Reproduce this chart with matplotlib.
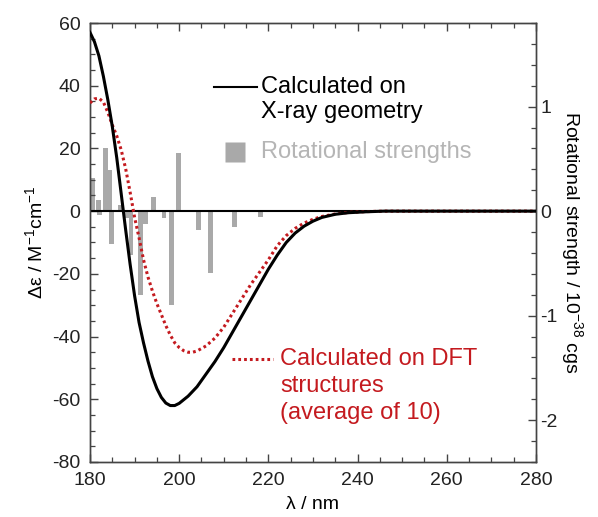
import matplotlib
matplotlib.use("Agg")
import matplotlib.pyplot as plt
from matplotlib.ticker import MultipleLocator

plt.rcParams["font.family"] = ["Liberation Sans", "DejaVu Sans"]
plt.rcParams["mathtext.fontset"] = "custom"
plt.rcParams["mathtext.rm"] = "Liberation Sans"
plt.rcParams["mathtext.it"] = "Liberation Sans:italic"
plt.rcParams["axes.unicode_minus"] = False

# -----------------------------------------------------------------------------
# Data
# -----------------------------------------------------------------------------

# Calculated on X-ray geometry (delta-epsilon, M^-1 cm^-1)
xray_nm = [180, 181, 182, 183, 184, 185, 186, 187, 188, 189, 190, 191, 192,
           193, 194, 195, 196, 197, 198, 199, 200, 202, 204, 206, 208, 210,
           212, 214, 216, 218, 220, 222, 224, 226, 228, 230, 232, 235, 238,
           242, 246, 280]
xray_de = [57, 54, 49.5, 43, 35.5, 27, 17, 5.5, -6, -17, -27, -35.5, -42,
           -47.8, -52.8, -56.6, -59.4, -61.2, -62, -62, -61.3, -59, -56, -52,
           -48, -43.5, -38.5, -33.5, -28.5, -23.5, -18.5, -14, -10, -7, -4.8,
           -3.2, -2, -1, -0.5, -0.2, 0, 0]

# Calculated on DFT structures, average of 10
dft_nm = [180, 181, 182, 183, 184, 185, 186, 187, 188, 189, 190, 191, 192,
          193, 194, 195, 196, 197, 198, 199, 200, 201, 202, 203, 204, 206,
          208, 210, 212, 214, 216, 218, 220, 222, 224, 226, 228, 230, 232,
          235, 238, 242, 246, 280]
dft_de = [34.5, 35.8, 36, 34.8, 31.5, 27.5, 24, 19.5, 13.5, 6, -2, -8.5,
          -15.5, -21, -25.5, -29.5, -33, -36.5, -39.5, -42, -43.5, -44.5, -45,
          -45, -44.6, -43, -40.5, -37, -32.5, -28, -23.5, -19.5, -15.5, -11,
          -7.8, -5.5, -3.8, -2.6, -1.7, -0.9, -0.4, -0.15, 0, 0]

# Rotational strengths (10^-38 cgs)
rs_nm = [180.5, 182.0, 182.1, 183.4, 184.4, 184.9, 186.8, 188.3, 189.2,
         191.3, 192.5, 194.2, 196.6, 198.3, 199.8, 204.4, 207.1, 212.5, 218.3]
rs_val = [0.32, 0.11, -0.04, 0.60, 0.39, -0.31, 0.06, -0.07, -0.42,
          -0.80, -0.12, 0.14, -0.07, -0.90, 0.56, -0.18, -0.59, -0.15, -0.06]

C_RED = "#c41a1f"
C_GRAY = "#a9a9a9"
C_SPINE = "#444444"

# -----------------------------------------------------------------------------
# Plot
# -----------------------------------------------------------------------------

fig = plt.figure(figsize=(5.98, 5.17), dpi=100)
ax = fig.add_axes([0.1505, 0.1064, 0.7458, 0.8491])
ax2 = ax.twinx()

# bars on the right axis, drawn behind the spectra
ax2.bar(rs_nm, rs_val, width=1.1, color=C_GRAY, zorder=1)
ax.set_zorder(ax2.get_zorder() + 1)
ax.patch.set_visible(False)

ax.axhline(0, color="black", lw=1.5, zorder=2)
ax.plot(dft_nm, dft_de, color=C_RED, lw=2.2, ls=(0, (0.9, 1.0)), zorder=3)
ax.plot(xray_nm, xray_de, color="black", lw=2.2, zorder=4)

ax.set_xlim(180, 280)
ax.set_ylim(-80, 60)
ax2.set_ylim(-2.4, 1.8)

ax.xaxis.set_major_locator(MultipleLocator(20))
ax.xaxis.set_minor_locator(MultipleLocator(5))
ax.yaxis.set_major_locator(MultipleLocator(20))
ax.yaxis.set_minor_locator(MultipleLocator(5))
ax2.yaxis.set_major_locator(MultipleLocator(1))
ax2.yaxis.set_minor_locator(MultipleLocator(0.2))

for a in (ax, ax2):
    for s in a.spines.values():
        s.set_color(C_SPINE)
        s.set_linewidth(1.0)
ax.tick_params(axis="x", which="both", direction="in", top=True, colors=C_SPINE,
               labelcolor="#222222", labelsize=14, pad=7)
ax.tick_params(axis="y", which="both", direction="in", right=False, colors=C_SPINE,
               labelcolor="#222222", labelsize=14, pad=7)
ax2.tick_params(axis="y", which="both", direction="in", colors=C_SPINE,
                labelcolor="#222222", labelsize=14, pad=3)
for a in (ax, ax2):
    a.tick_params(which="major", length=6, width=1.0)
    a.tick_params(which="minor", length=3.5, width=0.9)

ax.set_xlabel("λ / nm", fontsize=14, labelpad=5)
ax.set_ylabel(r"Δε / M$^{-1}$cm$^{-1}$", fontsize=14, va="center", ha="center")
ax.yaxis.set_label_coords(-0.123, 0.5)
ax2.set_ylabel(r"Rotational strength / 10$^{-38}$ cgs", fontsize=14,
               rotation=-90, va="center", ha="center")
ax2.yaxis.set_label_coords(1.08, 0.5)

# in-plot legend pieces
ax.plot([0.278, 0.374], [0.854, 0.854], color="black", lw=1.5,
        transform=ax.transAxes, zorder=5)
ax.text(0.383, 0.854, "Calculated on", transform=ax.transAxes, fontsize=17,
        va="center", ha="left", color="black")
ax.text(0.383, 0.797, "X-ray geometry", transform=ax.transAxes, fontsize=17,
        va="center", ha="left", color="black")

ax.plot([0.325], [0.706], marker="s", ms=14, color=C_GRAY, mec="none",
        transform=ax.transAxes, zorder=5)
ax.text(0.383, 0.706, "Rotational strengths", transform=ax.transAxes,
        fontsize=17, va="center", ha="left", color="#b5b5b5")

ax.plot([0.318, 0.410], [0.2346, 0.2346], color=C_RED, lw=2.2,
        ls=(0, (0.9, 1.0)), transform=ax.transAxes, zorder=5)
for txt, yy in [("Calculated on DFT", 0.2346), ("structures", 0.173),
                ("(average of 10)", 0.1116)]:
    ax.text(0.426, yy, txt, transform=ax.transAxes, fontsize=17,
            va="center", ha="left", color=C_RED)

plt.savefig("out.png", dpi=100)
plt.close()
